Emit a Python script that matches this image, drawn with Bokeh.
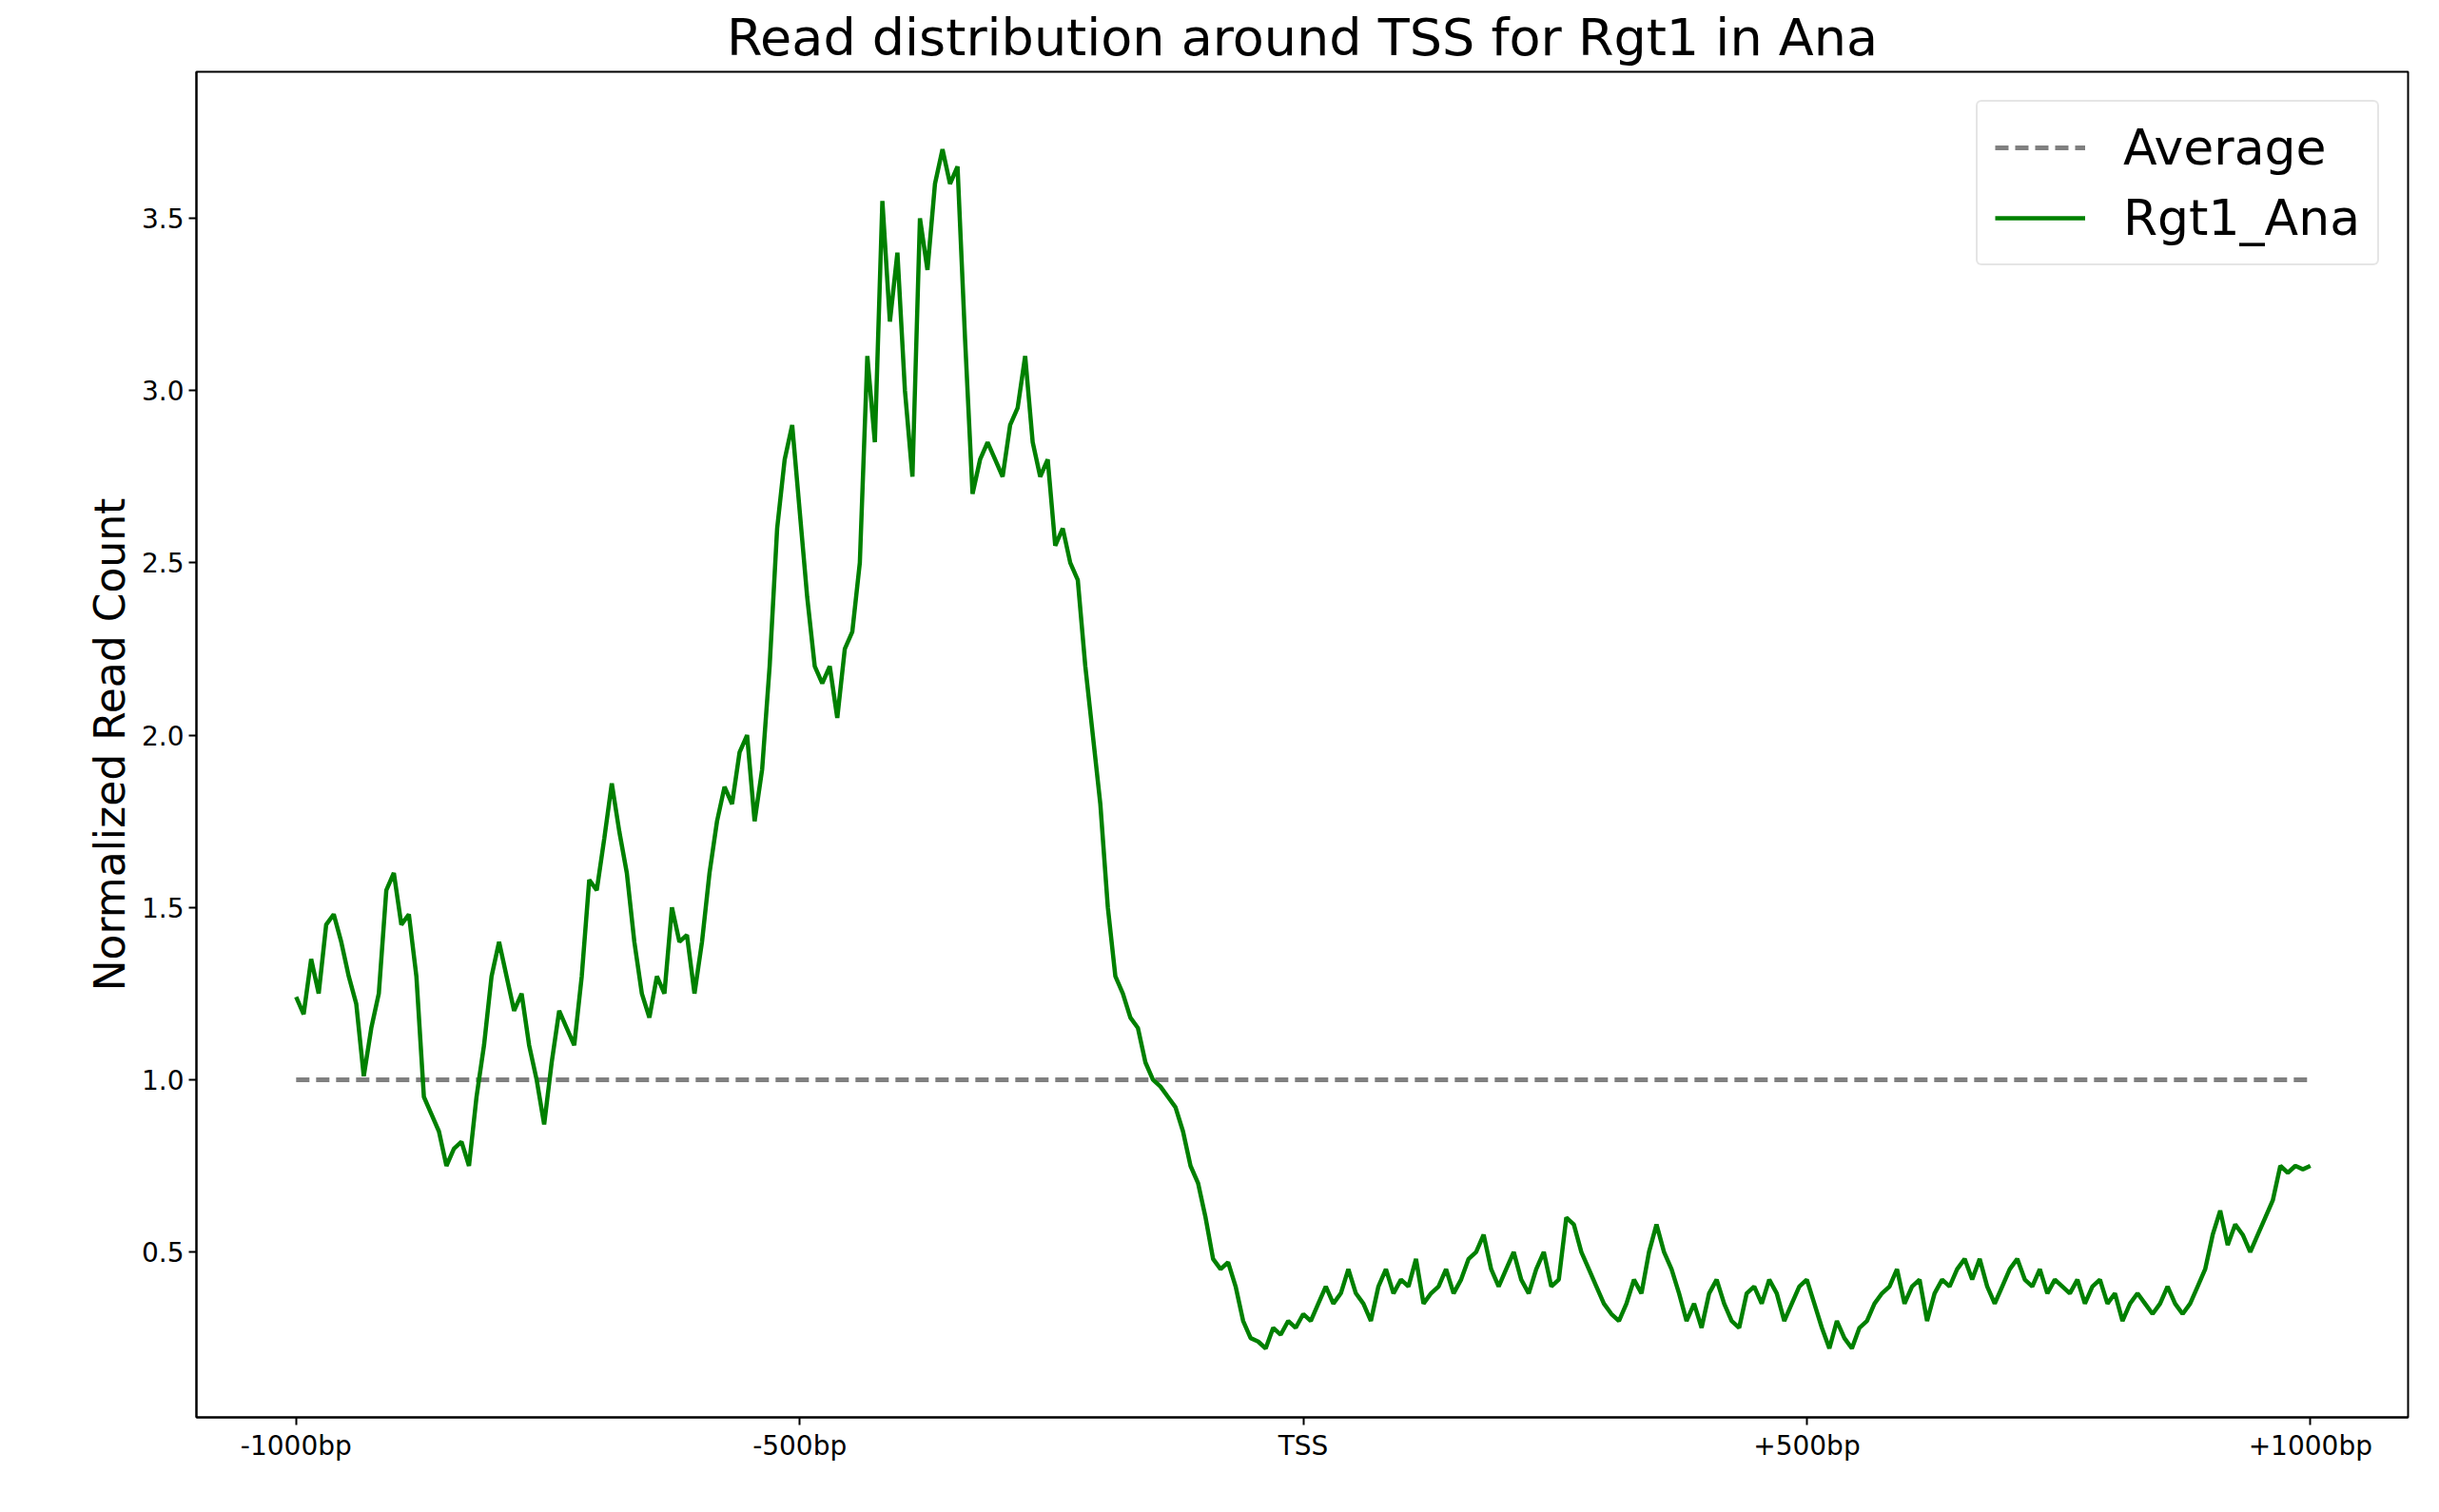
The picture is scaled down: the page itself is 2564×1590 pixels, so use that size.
import numpy as np
from bokeh.plotting import figure
from bokeh.models import Range1d, FixedTicker, PrintfTickFormatter
from bokeh.embed import file_html
from bokeh.resources import INLINE

# read counts, roughly evenly spaced from -1000bp to +1000bp
counts = [1.24, 1.19, 1.35, 1.25, 1.45, 1.48, 1.40, 1.30, 1.22, 1.01, 1.15, 1.25, 1.55, 1.60, 1.45, 1.48,
          1.30, 0.95, 0.90, 0.85, 0.75, 0.80, 0.82, 0.75, 0.95, 1.10, 1.30, 1.40, 1.30, 1.20, 1.25, 1.10,
          1.00, 0.87, 1.05, 1.20, 1.15, 1.10, 1.30, 1.58, 1.55, 1.70, 1.86, 1.72, 1.60, 1.40, 1.25, 1.18,
          1.30, 1.25, 1.50, 1.40, 1.42, 1.25, 1.40, 1.60, 1.75, 1.85, 1.80, 1.95, 2.00, 1.75, 1.90, 2.20,
          2.60, 2.80, 2.90, 2.65, 2.40, 2.20, 2.15, 2.20, 2.05, 2.25, 2.30, 2.50, 3.10, 2.85, 3.55, 3.20,
          3.40, 3.00, 2.75, 3.50, 3.35, 3.60, 3.70, 3.60, 3.65, 3.15, 2.70, 2.80, 2.85, 2.80, 2.75, 2.90,
          2.95, 3.10, 2.85, 2.75, 2.80, 2.55, 2.60, 2.50, 2.45, 2.20, 2.00, 1.80, 1.50, 1.30, 1.25, 1.18,
          1.15, 1.05, 1.00, 0.98, 0.95, 0.92, 0.85, 0.75, 0.70, 0.60, 0.48, 0.45, 0.47, 0.40, 0.30, 0.25,
          0.24, 0.22, 0.28, 0.26, 0.30, 0.28, 0.32, 0.30, 0.35, 0.40, 0.35, 0.38, 0.45, 0.38, 0.35, 0.30,
          0.40, 0.45, 0.38, 0.42, 0.40, 0.48, 0.35, 0.38, 0.40, 0.45, 0.38, 0.42, 0.48, 0.50, 0.55, 0.45,
          0.40, 0.45, 0.50, 0.42, 0.38, 0.45, 0.50, 0.40, 0.42, 0.60, 0.58, 0.50, 0.45, 0.40, 0.35, 0.32,
          0.30, 0.35, 0.42, 0.38, 0.50, 0.58, 0.50, 0.45, 0.38, 0.30, 0.35, 0.28, 0.38, 0.42, 0.35, 0.30,
          0.28, 0.38, 0.40, 0.35, 0.42, 0.38, 0.30, 0.35, 0.40, 0.42, 0.35, 0.28, 0.22, 0.30, 0.25, 0.22,
          0.28, 0.30, 0.35, 0.38, 0.40, 0.45, 0.35, 0.40, 0.42, 0.30, 0.38, 0.42, 0.40, 0.45, 0.48, 0.42,
          0.48, 0.40, 0.35, 0.40, 0.45, 0.48, 0.42, 0.40, 0.45, 0.38, 0.42, 0.40, 0.38, 0.42, 0.35, 0.40,
          0.42, 0.35, 0.38, 0.30, 0.35, 0.38, 0.35, 0.32, 0.35, 0.40, 0.35, 0.32, 0.35, 0.40, 0.45, 0.55,
          0.62, 0.52, 0.58, 0.55, 0.50, 0.55, 0.60, 0.65, 0.75, 0.73, 0.75, 0.74, 0.75]
tick_pos = [-1000, -500, 0, 500, 1000]
tick_labels = ["-1000bp", "-500bp", "TSS", "+500bp", "+1000bp"]
average = 1.0

positions = np.linspace(-1000, 1000, len(counts))

p = figure(width=2548, height=1574, output_backend="svg", toolbar_location=None,
           x_range=Range1d(-1099, 1097), y_range=Range1d(0.02, 3.925),
           title="Read distribution around TSS for Rgt1 in Ana",
           min_border_left=206, min_border_right=17, min_border_top=40, min_border_bottom=84)
p.title.align = "center"
p.title.text_font = "DejaVu Sans"
p.title.text_font_size = "54px"
p.title.text_font_style = "normal"
p.title.text_color = "black"

p.line([-1000, 1000], [average, average], color="gray", line_width=5, line_dash="14 7", legend_label="Average")
p.line(positions, counts, color="green", line_width=4.5, legend_label="Rgt1_Ana")

p.xgrid.visible = False
p.ygrid.visible = False
p.outline_line_color = "black"
p.outline_line_width = 2

p.xaxis.ticker = FixedTicker(ticks=tick_pos)
p.xaxis.major_label_overrides = {t: l for t, l in zip(tick_pos, tick_labels)}
p.yaxis.ticker = FixedTicker(ticks=[0.5, 1.0, 1.5, 2.0, 2.5, 3.0, 3.5])
p.yaxis.formatter = PrintfTickFormatter(format="%.1f")
p.yaxis.axis_label = "Normalized Read Count"
for ax in (p.xaxis, p.yaxis):
    ax.axis_label_text_font = "DejaVu Sans"
    ax.axis_label_text_font_size = "44px"
    ax.axis_label_text_font_style = "normal"
    ax.axis_label_text_color = "black"
    ax.major_label_text_font = "DejaVu Sans"
    ax.major_label_text_font_size = "28px"
    ax.major_label_text_color = "black"
    ax.minor_tick_line_color = None
    ax.major_tick_out = 8
    ax.major_tick_in = 0
    ax.major_tick_line_width = 2
    ax.axis_line_width = 2

p.legend.location = "top_right"
p.legend.label_text_font = "DejaVu Sans"
p.legend.label_text_font_size = "52px"
p.legend.label_text_color = "black"
p.legend.glyph_width = 95
p.legend.label_standoff = 40
p.legend.spacing = 14
p.legend.border_line_color = "#cccccc"
p.legend.border_line_width = 2
p.legend.border_radius = 6
p.legend.padding = 18
p.legend.margin = 30

open("out.html", "w").write(file_html(p, INLINE))
